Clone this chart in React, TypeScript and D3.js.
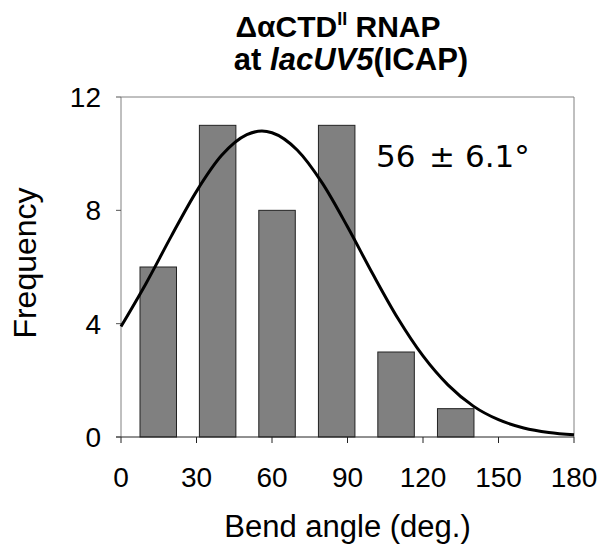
import React from "react";
import * as d3 from "d3";

// Histogram bins (bin centre in degrees) and frequencies
const binCenters = [14.8, 38.4, 62.0, 85.7, 109.3, 133.0];
const frequencies = [6, 11, 8, 11, 3, 1];

// Fitted gaussian curve
const curveX = [0, 10, 20, 30, 40, 50, 56, 60, 70, 80, 90, 100, 110, 120, 130, 140, 150, 160, 170, 180];
const curveY = [3.9, 5.43, 7.09, 8.67, 9.94, 10.67, 10.8, 10.74, 10.13, 8.96, 7.42, 5.76, 4.19, 2.86, 1.83, 1.09, 0.61, 0.32, 0.16, 0.08];

const xTicks = [0, 30, 60, 90, 120, 150, 180];
const yTicks = [0, 4, 8, 12];

const annotationParts = ["56", "\u00B1", "6.1\u00B0"];

export default function App() {
  const W = 611;
  const H = 548;
  const left = 121;
  const right = 574;
  const top = 97;
  const bottom = 437;
  const binWidth = 14.5;

  const x = d3.scaleLinear().domain([0, 180]).range([left, right]);
  const y = d3.scaleLinear().domain([0, 12]).range([bottom, top]);

  const line = d3
    .line<number>()
    .x((_, i) => x(curveX[i]))
    .y((d) => y(d))
    .curve(d3.curveMonotoneX);

  const font = "'Liberation Sans', Arial, sans-serif";
  const annX = [376, 429, 465];

  return (
    <svg
      width={W}
      height={H}
      style={{ position: "absolute", left: 0, top: 0, background: "#fff" }}
      fontFamily={font}
    >
      {/* Title */}
      <text x={338} y={37} textAnchor="middle" fontSize={30} fontWeight="bold">
        {"\u0394\u03B1CTD"}
        <tspan fontSize={18} dy={-12}>II</tspan>
        <tspan dy={12}> RNAP</tspan>
      </text>
      <text x={351} y={70} textAnchor="middle" fontSize={31} fontWeight="bold">
        {"at "}
        <tspan fontStyle="italic">lacUV5</tspan>
        (ICAP)
      </text>

      {/* Frame */}
      <line x1={left} x2={right} y1={top} y2={top} stroke="#808080" strokeWidth={1} />
      <line x1={right} x2={right} y1={top} y2={bottom} stroke="#808080" strokeWidth={1} />
      <line x1={left} x2={left} y1={top} y2={bottom} stroke="#808080" strokeWidth={1} />

      {/* Bars */}
      {frequencies.map((f, i) => (
        <rect
          key={i}
          x={x(binCenters[i] - binWidth / 2)}
          width={x(binWidth) - x(0)}
          y={y(f)}
          height={y(0) - y(f)}
          fill="#808080"
          stroke="#222"
          strokeWidth={1}
        />
      ))}

      {/* X axis */}
      <line x1={left - 5} x2={right} y1={bottom} y2={bottom} stroke="#222" strokeWidth={1} />
      {xTicks.map((t) => (
        <g key={t}>
          <line x1={x(t)} x2={x(t)} y1={bottom} y2={bottom + 6} stroke="#222" strokeWidth={1} />
          <text x={x(t)} y={487} textAnchor="middle" fontSize={28}>
            {t}
          </text>
        </g>
      ))}

      {/* Y axis */}
      {yTicks.map((t) => (
        <g key={t}>
          <line x1={left - 5} x2={left} y1={y(t)} y2={y(t)} stroke="#555" strokeWidth={1} />
          <text x={101} y={y(t) + 10} textAnchor="end" fontSize={28}>
            {t}
          </text>
        </g>
      ))}

      {/* Curve */}
      <path d={line(curveY) || ""} fill="none" stroke="#000" strokeWidth={3} />

      {/* Annotation */}
      <text y={167} fontSize={31} fontFamily="'DejaVu Sans', Verdana, sans-serif">
        {annotationParts.map((p, i) => (
          <tspan key={i} x={annX[i]}>
            {p}
          </tspan>
        ))}
      </text>

      {/* Axis titles */}
      <text x={347.5} y={537} textAnchor="middle" fontSize={31}>
        Bend angle (deg.)
      </text>
      <text
        transform={`translate(36, 263) rotate(-90)`}
        textAnchor="middle"
        fontSize={32}
      >
        Frequency
      </text>
    </svg>
  );
}
